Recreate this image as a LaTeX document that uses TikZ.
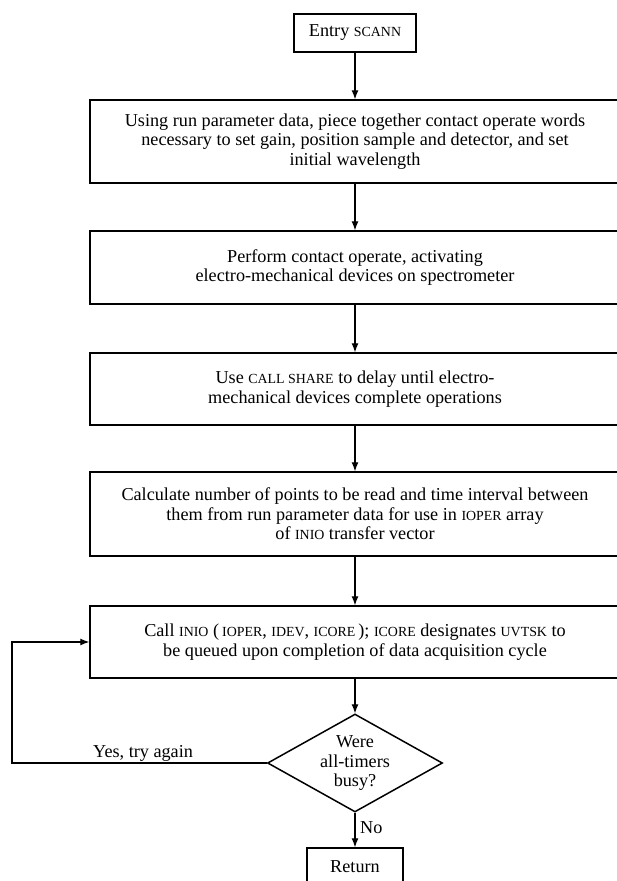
\documentclass[tikz,border=0pt]{standalone}
\usepackage{fontspec}
\setmainfont{Liberation Serif}
\usetikzlibrary{arrows.meta,shapes.geometric}
% small capitals set as reduced upper case
\newcommand\kap[1]{{\fontsize{13.9pt}{19pt}\selectfont #1}}
\begin{document}
\begin{tikzpicture}[x=1pt,y=-1pt,
  base/.style={font=\fontsize{18.2pt}{19.5pt}\selectfont},
  box/.style={base,draw,line width=1.5pt,inner sep=0pt,align=center},
  test/.style={base,draw,line width=1.5pt,shape=diamond,aspect=1.8,inner sep=0pt,align=center,
    minimum width=175pt,minimum height=98pt},
  flow/.style={line width=1.1pt,-{Latex[length=9pt,width=7pt]}},
  lbl/.style={base,inner sep=0pt}]
\useasboundingbox (0,0) rectangle (616,881);

\node[box,minimum width=122pt,minimum height=38pt] (entry) at (355,33) {Entry \kap{SCANN}};
\node[box,minimum width=530pt,minimum height=83pt] (b1) at (355,141.5)
  {Using run parameter data, piece together contact operate words\\
   necessary to set gain, position sample and detector, and set\\
   initial wavelength};
\node[box,minimum width=530pt,minimum height=73pt] (b2) at (355,267.5)
  {Perform contact operate, activating\\
   electro-mechanical devices on spectrometer};
\node[box,minimum width=530pt,minimum height=72pt] (b3) at (355,389)
  {Use \kap{CALL SHARE} to delay until electro-\\
   mechanical devices complete operations};
\node[box,minimum width=530pt,minimum height=84pt] (b4) at (355,514)
  {Calculate number of points to be read and time interval between\\
   them from run parameter data for use in \kap{IOPER} array\\
   of \kap{INIO} transfer vector};
\node[box,minimum width=530pt,minimum height=72pt] (b5) at (355,642)
  {Call \kap{INIO} (\,\kap{IOPER}, \kap{IDEV}, \kap{ICORE}\,); \kap{ICORE} designates \kap{UVTSK} to\\
   be queued upon completion of data acquisition cycle};
\node[test] (dec) at (355,763) {Were\\all-timers\\busy?};
\node[box,minimum width=96pt,minimum height=38pt] (ret) at (355,867) {Return};

\draw[flow] (entry) -- (b1);
\draw[flow] (b1) -- (b2);
\draw[flow] (b2) -- (b3);
\draw[flow] (b3) -- (b4);
\draw[flow] (b4) -- (b5);
\draw[flow] (b5) -- (dec);
\draw[flow] (dec) -- (ret);

% retry loop back into the INIO call
\coordinate (lp) at (12,0);
\draw[flow] (dec.west) -| (lp |- b5.west) -- (b5.west);

\node[lbl,anchor=base west] (yes) at (93,757) {Yes, try again};
\node[lbl,anchor=base west] (no) at (360,833) {No};
\end{tikzpicture}
\end{document}
